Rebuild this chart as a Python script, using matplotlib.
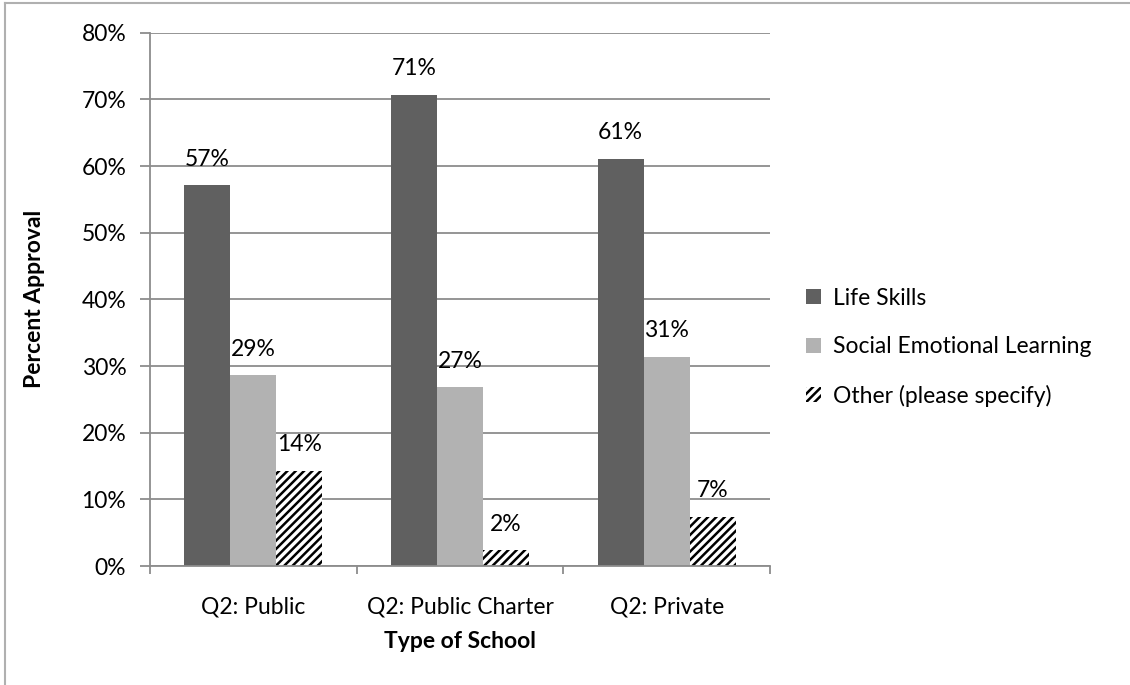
import matplotlib
matplotlib.use("Agg")
import matplotlib.pyplot as plt
from matplotlib.lines import Line2D
import numpy as np

# survey results per school type
schools = ["Q2: Public", "Q2: Public Charter", "Q2: Private"]
life_skills = [57.1, 70.7, 61.1]
social_emotional = [28.6, 26.8, 31.4]
other = [14.3, 2.4, 7.4]

series_names = ["Life Skills", "Social Emotional Learning", "Other (please specify)"]
yticks = [0, 10, 20, 30, 40, 50, 60, 70, 80]

plt.rcParams["font.family"] = ["Lato", "DejaVu Sans"]
plt.rcParams["hatch.linewidth"] = 1.8
fs = 16.5

fig = plt.figure(figsize=(11.3, 6.85), dpi=100)
ax = fig.add_axes([0.1327, 0.1737, 0.5487, 0.7786])

x = np.arange(len(schools))
w = 0.2226
grid_col = "#8c8c8c"

b1 = ax.bar(x - w, life_skills, w, color="#606060", zorder=3, label=series_names[0])
b2 = ax.bar(x, social_emotional, w, color="#b2b2b2", zorder=3, label=series_names[1])
b3 = ax.bar(x + w, other, w, color="white", edgecolor="black", linewidth=0,
            hatch="////", zorder=3, label=series_names[2])

for bars, vals in [(b1, life_skills), (b2, social_emotional), (b3, other)]:
    for rect, v in zip(bars, vals):
        ax.annotate(f"{v:.0f}%", (rect.get_x() + rect.get_width() / 2, v),
                    xytext=(0, 11), textcoords="offset points",
                    ha="center", va="bottom", fontsize=fs, color="black")

ax.set_xlim(-0.5, 2.5)
ax.set_ylim(0, 80)
ax.set_yticks(yticks)
ax.set_yticklabels([f"{t}%" for t in yticks], fontsize=fs)
ax.set_xticks(x)
ax.set_xticklabels(schools, fontsize=fs)
ax.set_xticks([-0.5, 0.5, 1.5, 2.5], minor=True)
ax.tick_params(axis="x", which="major", length=0, pad=22)
ax.tick_params(axis="x", which="minor", length=6, width=1.3, color=grid_col, direction="out")
ax.tick_params(axis="y", length=7, width=1.3, color=grid_col, pad=10)

ax.yaxis.grid(True, color=grid_col, linewidth=1.3, zorder=0)
ax.set_axisbelow(True)
for side in ["top", "right"]:
    ax.spines[side].set_visible(False)
for side in ["left", "bottom"]:
    ax.spines[side].set_color(grid_col)
    ax.spines[side].set_linewidth(1.3)
    ax.spines[side].set_zorder(4)

ax.set_ylabel("Percent Approval", fontsize=fs, fontweight="bold")
ax.yaxis.set_label_coords(-0.169, 0.5)
ax.set_xlabel("Type of School", fontsize=fs, fontweight="bold")
ax.xaxis.set_label_coords(0.5, -0.121)

leg = ax.legend(loc="center left", bbox_to_anchor=(1.058, 0.41), frameon=False,
                borderaxespad=0, borderpad=0,
                fontsize=fs, handlelength=0.65, handleheight=0.65, handletextpad=0.55,
                labelspacing=1.2)

# chart area border (left and top edges)
fig.add_artist(Line2D([5 / 1130, 5 / 1130], [0, 1 - 3 / 685], transform=fig.transFigure,
                      color="#b0b0b0", linewidth=1.5))
fig.add_artist(Line2D([5 / 1130, 1], [1 - 3 / 685, 1 - 3 / 685], transform=fig.transFigure,
                      color="#b0b0b0", linewidth=1.5))

fig.savefig("out.png", dpi=100)
